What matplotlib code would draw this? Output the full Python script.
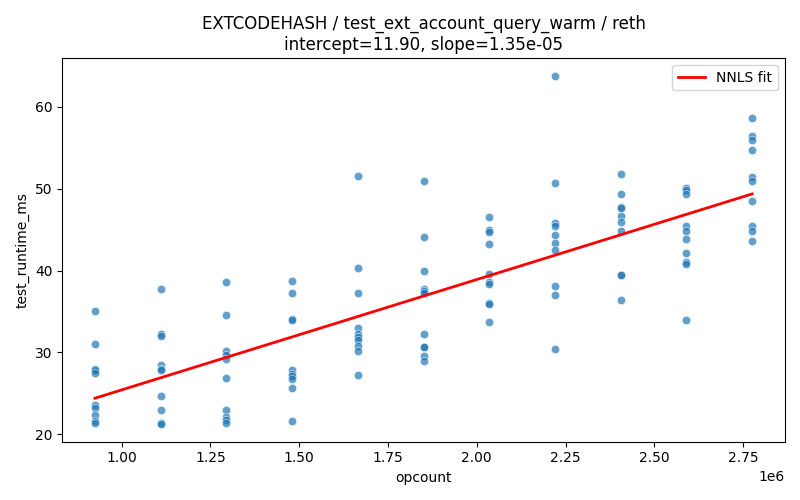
import numpy as np
import pandas as pd
import matplotlib
matplotlib.use("Agg")
import matplotlib.pyplot as plt
import seaborn as sns

opcounts = [925000, 1110000, 1295000, 1480000, 1665000, 1850000,
            2035000, 2220000, 2405000, 2590000, 2775000]

runtimes = [
    [35.1, 31.0, 28.0, 27.8, 27.5, 23.5, 23.2, 22.3, 21.6, 21.4],
    [37.7, 32.2, 32.0, 28.4, 28.0, 27.8, 24.7, 22.9, 21.4, 21.2],
    [38.6, 34.6, 30.2, 29.7, 29.2, 26.9, 22.9, 22.1, 21.7, 21.4],
    [38.7, 37.2, 34.1, 33.9, 27.8, 27.4, 27.1, 26.7, 25.6, 21.6],
    [51.6, 40.3, 37.3, 33.0, 32.2, 31.9, 31.5, 30.8, 30.1, 27.2],
    [51.0, 44.1, 39.9, 37.8, 37.5, 37.2, 32.2, 30.7, 30.6, 29.5, 28.9],
    [46.5, 45.0, 44.7, 43.2, 39.6, 38.6, 38.4, 36.0, 35.9, 33.7],
    [63.8, 50.7, 45.8, 45.5, 44.3, 43.4, 42.5, 38.1, 37.0, 30.4],
    [51.8, 49.4, 47.8, 47.6, 46.7, 45.9, 44.8, 39.5, 39.4, 36.4],
    [50.1, 49.8, 49.3, 45.4, 44.8, 43.9, 42.1, 41.0, 40.8, 34.0],
    [58.6, 56.4, 56.0, 54.7, 51.4, 51.0, 48.5, 45.4, 44.8, 43.6],
]

intercept = 11.90
slope = 1.35e-05

rows = [(x, y) for x, ys in zip(opcounts, runtimes) for y in ys]
df = pd.DataFrame(rows, columns=["opcount", "test_runtime_ms"])

fig, ax = plt.subplots(figsize=(8, 5), dpi=100)
sns.scatterplot(data=df, x="opcount", y="test_runtime_ms", alpha=0.7, ax=ax)
xs = np.array([min(opcounts), max(opcounts)])
ax.plot(xs, intercept + slope * xs, color="red", linewidth=2, label="NNLS fit")
ax.set_title("EXTCODEHASH / test_ext_account_query_warm / reth\n"
             "intercept=%.2f, slope=%.2e" % (intercept, slope))
ax.legend(loc="upper right")
plt.tight_layout()
plt.savefig("out.png")
